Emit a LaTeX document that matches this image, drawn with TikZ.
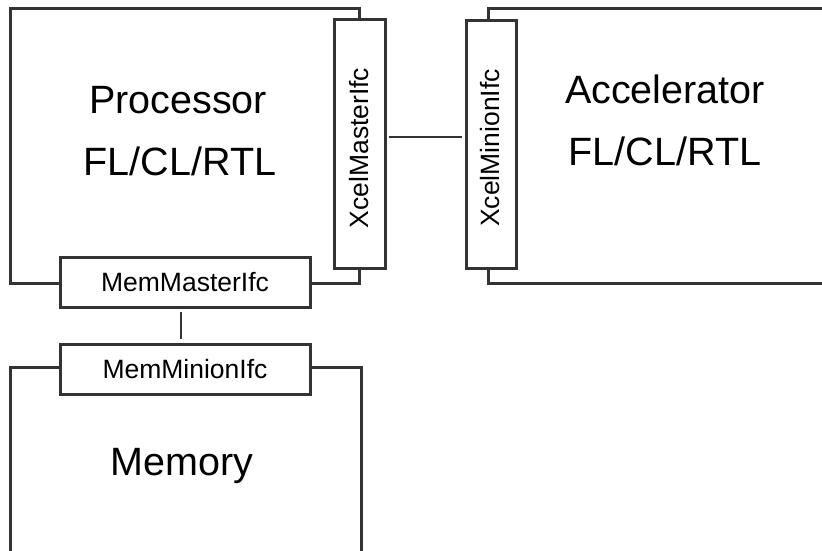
\documentclass[tikz,border=0pt]{standalone}
\usepackage{fontspec}
\setmainfont{Liberation Sans}
\definecolor{edge}{HTML}{333333}
\begin{document}
\begin{tikzpicture}[x=1pt,y=-1pt,
  blockbox/.style={draw=edge,line width=3pt,rectangle,inner sep=0pt,fill=white},
  ifcbox/.style={draw=edge,line width=3pt,rectangle,inner sep=0pt,fill=white,font=\fontsize{26.5}{30}\selectfont},
  bigtext/.style={anchor=base,inner sep=0pt,font=\fontsize{39.5}{44}\selectfont},
  conn/.style={draw=edge,line width=1.5pt}]
\useasboundingbox (0,0) rectangle (822,550);
\clip (0,0) rectangle (822,550);
% main blocks
\node[blockbox,minimum width=349,minimum height=275] (proc) at (184.5,145.5) {};
\node[blockbox,minimum width=382,minimum height=275] (accel) at (679,145.5) {};
\node[blockbox,minimum width=351,minimum height=233] (mem) at (185.5,483.5) {};
% interfaces
\node[ifcbox,minimum width=51,minimum height=249] (xm) at (359.5,143.5) {};
\node[rotate=90,inner sep=0pt,font=\fontsize{26.5}{30}\selectfont] (xmt) at (359.5,148) {XcelMasterIfc};
\node[ifcbox,minimum width=50,minimum height=248] (xn) at (491,144) {};
\node[rotate=90,inner sep=0pt,font=\fontsize{26.5}{30}\selectfont] (xnt) at (490,148) {XcelMinionIfc};
\node[ifcbox,minimum width=250,minimum height=50] (mm) at (185,282) {MemMasterIfc};
\node[ifcbox,minimum width=250,minimum height=50] (mn) at (185,369) {MemMinionIfc};
% texts
\node[bigtext] (pt1) at (178,113) {Processor};
\node[bigtext] (pt2) at (180,175) {FL/CL/RTL};
\node[bigtext] (at1) at (665,103) {Accelerator};
\node[bigtext] (at2) at (665,165) {FL/CL/RTL};
\node[bigtext] (mt) at (182,475) {Memory};
% connectors
\draw[conn,shorten <=2pt,shorten >=3pt] ([yshift=6.5pt]xm.east) -- ([yshift=6.5pt]xm.east -| xn.west);
\draw[conn,shorten <=3pt,shorten >=4pt] ([xshift=-4pt]mm.south) -- ([xshift=-4pt]mn.north);
\end{tikzpicture}
\end{document}
